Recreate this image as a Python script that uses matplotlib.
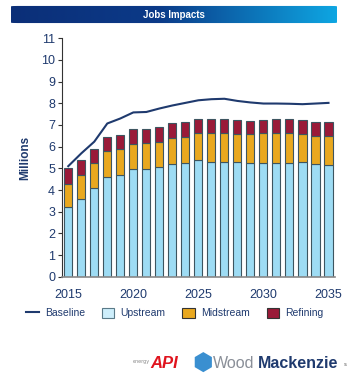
import matplotlib.pyplot as plt
import numpy as np
from matplotlib.colors import LinearSegmentedColormap
from matplotlib.patches import Patch, FancyBboxPatch
from matplotlib.lines import Line2D

years = np.arange(2015, 2036)
upstream = [3.22, 3.60, 4.07, 4.61, 4.71, 4.99, 4.99, 5.07, 5.19, 5.23, 5.37,
            5.31, 5.31, 5.29, 5.26, 5.26, 5.26, 5.26, 5.27, 5.18, 5.15]
upstream_mid = [4.30, 4.71, 5.26, 5.79, 5.89, 6.12, 6.15, 6.22, 6.41, 6.46, 6.65,
                6.61, 6.61, 6.57, 6.57, 6.61, 6.61, 6.61, 6.58, 6.51, 6.51]
total = [5.00, 5.38, 5.89, 6.43, 6.54, 6.80, 6.81, 6.89, 7.07, 7.12, 7.28,
         7.26, 7.26, 7.23, 7.20, 7.23, 7.26, 7.26, 7.23, 7.15, 7.15]
baseline = [5.10, 5.69, 6.23, 7.07, 7.30, 7.58, 7.60, 7.76, 7.90, 8.02, 8.14,
            8.19, 8.21, 8.11, 8.04, 7.99, 7.99, 7.98, 7.96, 7.99, 8.02]

midstream = np.array(upstream_mid) - np.array(upstream)
refining = np.array(total) - np.array(upstream_mid)

navy = '#1f3a6e'
c_up, c_mid, c_ref = '#9edcf4', '#e9a81f', '#9a1a38'
edge = '#3d5560'

fig = plt.figure(figsize=(3.5, 3.83), dpi=100)

# === Title banner (gradient clipped to a rounded box) ===
bax = fig.add_axes([11/350, 1-24/383, 326/350, 19/383])
grad = np.linspace(0, 1, 256).reshape(1, -1)
cmap = LinearSegmentedColormap.from_list('bn', [(0, '#0b2f78'), (0.45, '#0b3a88'), (1, '#0ea6e2')])
im = bax.imshow(grad, aspect='auto', cmap=cmap, extent=[0, 1, 0, 1])
clip = FancyBboxPatch((0.01, 0.06), 0.98, 0.88, boxstyle='round,pad=0.01,rounding_size=0.02',
                      transform=bax.transAxes, facecolor='none', edgecolor='none')
bax.add_patch(clip)
im.set_clip_path(clip)
bax.set_xlim(0, 1)
bax.set_ylim(0, 1)
bax.axis('off')
bax.text(0.5, 0.5, 'Jobs Impacts', color='white', fontsize=7, fontweight='bold',
         ha='center', va='center', family='Liberation Sans')

# === Main chart ===
ax = fig.add_axes([62/350, 1-276.7/383, 273/350, 238.4/383])
w = 0.62
ax.bar(years, upstream, w, color=c_up, edgecolor=edge, linewidth=0.8, zorder=2)
ax.bar(years, midstream, w, bottom=upstream, color=c_mid, edgecolor=edge, linewidth=0.8, zorder=2)
ax.bar(years, refining, w, bottom=upstream_mid, color=c_ref, edgecolor=edge, linewidth=0.8, zorder=2)
ax.plot(years, baseline, color=navy, linewidth=1.5, zorder=3)

ax.set_xlim(2014.52, 2035.5)
ax.set_ylim(0, 11)
ax.set_yticks(range(0, 12))
ax.set_xticks([2015, 2020, 2025, 2030, 2035])
ax.tick_params(axis='y', length=3, width=0.8, color='#333333', labelcolor=navy, labelsize=9, pad=2)
ax.tick_params(axis='x', length=0, labelcolor=navy, labelsize=9, pad=9)
for lab in ax.get_xticklabels() + ax.get_yticklabels():
    lab.set_family('Liberation Sans')
ax.set_ylabel('Millions', color=navy, fontsize=8.5, fontweight='bold', family='Liberation Sans', labelpad=7)
for s in ['top', 'right']:
    ax.spines[s].set_visible(False)
ax.spines['left'].set_color('#333333')
ax.spines['bottom'].set_color('#888888')
ax.spines['bottom'].set_linewidth(1.2)

# === Legend ===
handles = [Line2D([], [], color=navy, lw=1.5),
           Patch(facecolor='#cdeefb', edgecolor='#5a7a88', lw=0.8),
           Patch(facecolor=c_mid, edgecolor='#333333', lw=0.8),
           Patch(facecolor=c_ref, edgecolor='#333333', lw=0.8)]
fig.legend(handles, ['Baseline', 'Upstream', 'Midstream', 'Refining'],
           loc='center', bbox_to_anchor=(0.5, 1-313/383), ncol=4, frameon=False,
           prop={'family': 'Liberation Sans', 'size': 7.5}, labelcolor=navy,
           handlelength=1.2, handleheight=1.2, handletextpad=0.6, columnspacing=1.6)

# === Logos (as text) ===
fig.text(150/350, 1-362/383, 'energy', fontsize=3.5, color='#888888', ha='right', va='center')
fig.text(150/350, 1-363/383, 'API', fontsize=12, color='#e0141e', fontweight='bold', style='italic',
         ha='left', va='center', family='Liberation Sans')
fig.text(203/350, 1-364/383, '\u2B22', fontsize=17, color='#3a8fd0', ha='center', va='center', family='DejaVu Sans')
t_wood = fig.text(213/350, 1-364/383, 'Wood', fontsize=11.5, color='#8a8f98', ha='left', va='center',
                  family='Liberation Sans')
fig.canvas.draw()
bb = t_wood.get_window_extent()
fig.text(bb.x1/350 + 3/350, 1-364/383, 'Mackenzie', fontsize=11.5, color=navy, fontweight='bold',
         ha='left', va='center', family='Liberation Sans')
fig.text(344/350, 1-364/383, 's', fontsize=4, color='#555555', ha='left', va='center')

fig.savefig('out.png', dpi=100)
